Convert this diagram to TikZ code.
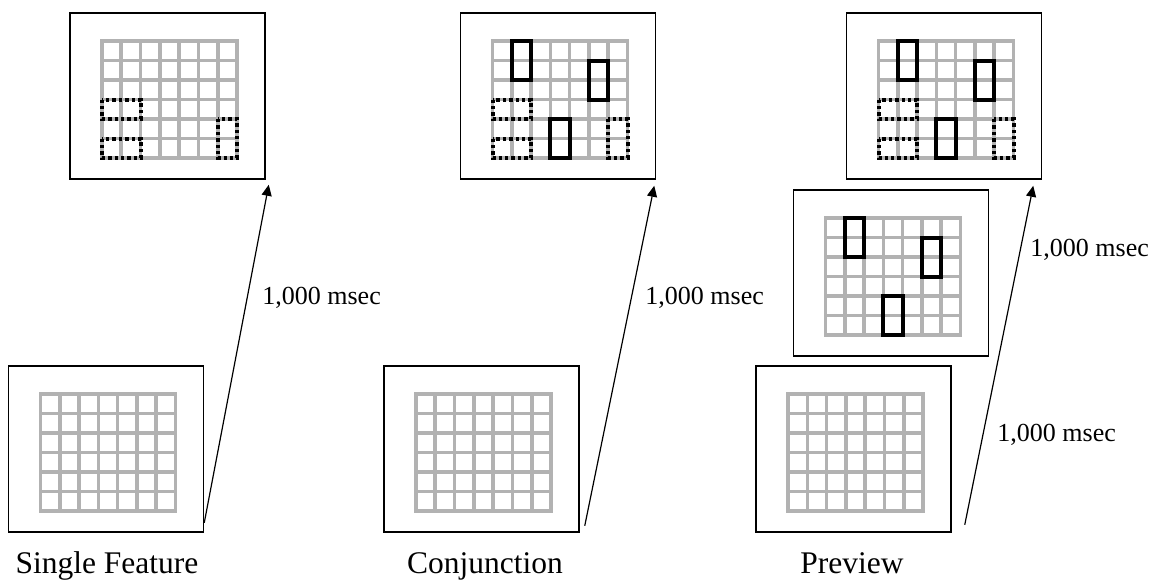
\documentclass[tikz,border=0pt]{standalone}
\usepackage{fontspec}
\setmainfont{Liberation Serif}
\usetikzlibrary{arrows.meta}
\definecolor{gridgray}{RGB}{178,178,178}

\def\cellw{19.2857}
\def\cellh{19.5}
% 7 x 6 cell grid inside a screen node
\newcommand{\cellgrid}[1]{%
  \begin{scope}[shift={(#1.center)}, shift={(-65.5,-55)}]
    \draw[gridline] (0,0) rectangle (7*\cellw,6*\cellh);
    \foreach \c in {1,...,6}
      \draw[gridline] (\c*\cellw,0) -- (\c*\cellw,6*\cellh);
    \foreach \r in {1,...,5}
      \draw[gridline] (0,\r*\cellh) -- (7*\cellw,\r*\cellh);
  \end{scope}}
% item on the grid: style, screen, column, row, width, height
\newcommand{\stim}[6]{%
  \draw[#1, shift={(#2.center)}, shift={(-65.5,-55)}]
    (#3*\cellw,#4*\cellh) rectangle ++(#5*\cellw,#6*\cellh);}

\begin{document}
\begin{tikzpicture}[x=0.5pt, y=-0.5pt,
    screen/.style ={draw, line width=0.75pt, minimum width=97.5pt,
                    minimum height=83pt, inner sep=0pt},
    gridline/.style ={draw=gridgray, line width=1.8pt},
    distractor/.style ={draw, line width=2pt, dash pattern=on 1.7pt off 1.5pt},
    target/.style ={draw, line width=2pt},
    timearrow/.style ={-{Triangle[length=5.5pt,width=5pt]}, line width=0.6pt},
    duration/.style ={font=\fontsize{13}{15}\selectfont, anchor=west, inner sep=0pt},
    condition/.style ={font=\fontsize{15.75}{18}\selectfont, anchor=base, inner sep=0pt}]
   \useasboundingbox (0,0) rectangle (1159,579);

   \node[screen] (sfblank)   at (106,449)   {};
   \node[screen] (sfsearch)  at (167.5,96)  {};
   \node[screen] (cjblank)   at (481.5,449) {};
   \node[screen] (cjsearch)  at (558,96)    {};
   \node[screen] (pvblank)   at (853.5,449) {};
   \node[screen] (pvpreview) at (891,273)   {};
   \node[screen] (pvsearch)  at (944,96)    {};

   \foreach \s in {sfblank,sfsearch,cjblank,cjsearch,pvblank,pvpreview,pvsearch}
     \cellgrid{\s};

   % dotted distractors
   \foreach \s in {sfsearch,cjsearch,pvsearch} {
     \stim{distractor}{\s}{0}{3}{2}{1}
     \stim{distractor}{\s}{0}{5}{2}{1}
     \stim{distractor}{\s}{6}{4}{1}{2}
   }
   % solid items
   \foreach \s in {cjsearch,pvpreview,pvsearch} {
     \stim{target}{\s}{1}{0}{1}{2}
     \stim{target}{\s}{5}{1}{1}{2}
     \stim{target}{\s}{3}{4}{1}{2}
   }

   \draw[timearrow] ([yshift=5pt]sfblank.south east) to
                    ([xshift=1.5pt,yshift=-2.5pt]sfsearch.south east);
   \draw[timearrow] ([xshift=2.5pt,yshift=3.5pt]cjblank.south east) to
                    ([xshift=-1pt,yshift=-3pt]cjsearch.south east);
   \draw[timearrow] ([xshift=6.5pt,yshift=4pt]pvblank.south east) to
                    ([xshift=-4.5pt,yshift=-3pt]pvsearch.south east);

   \node[duration] (sftime)  at (262,298)  {1,000 msec};
   \node[duration] (cjtime)  at (645,298)  {1,000 msec};
   \node[duration] (pvtimea) at (1030,250) {1,000 msec};
   \node[duration] (pvtimeb) at (997,435)  {1,000 msec};

   \node[condition] (sflabel) at (107,573) {Single Feature};
   \node[condition] (cjlabel) at (485,573) {Conjunction};
   \node[condition] (pvlabel) at (852,573) {Preview};
\end{tikzpicture}
\end{document}
